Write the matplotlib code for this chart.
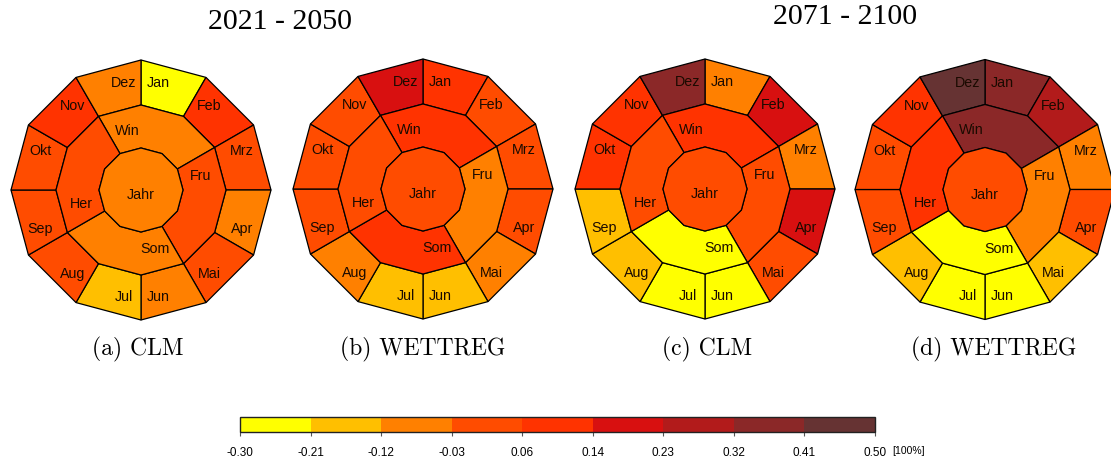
import numpy as np
import matplotlib
matplotlib.use("Agg")
import matplotlib.pyplot as plt
from matplotlib.patches import Polygon
from matplotlib.colors import ListedColormap, BoundaryNorm
import matplotlib.colorbar as mcolorbar

# ---------------- data ----------------
months = ["Jan", "Feb", "Mrz", "Apr", "Mai", "Jun", "Jul", "Aug", "Sep", "Okt", "Nov", "Dez"]
seasons = ["Win", "Fru", "Som", "Her"]
annual_label = "Jahr"

panel_captions = ["(a) CLM", "(b) WETTREG", "(c) CLM", "(d) WETTREG"]
period_titles = ["2021 - 2050", "2071 - 2100"]

# relative change [100%] per month (Jan..Dez)
clm_2021_months = [-0.26, 0.09, 0.02, -0.07, 0.01, -0.06, -0.17, 0.03, 0.02, 0.01, 0.10, -0.08]
wet_2021_months = [0.09, 0.03, 0.02, 0.04, -0.07, -0.16, -0.18, -0.08, 0.01, 0.02, 0.03, 0.18]
clm_2071_months = [-0.08, 0.19, -0.06, 0.20, 0.04, -0.27, -0.25, -0.15, -0.17, 0.08, 0.09, 0.36]
wet_2071_months = [0.37, 0.27, -0.07, 0.04, -0.16, -0.26, -0.28, -0.17, 0.03, 0.02, 0.10, 0.46]

# per season (Win, Fru, Som, Her)
clm_2021_seasons = [-0.05, 0.02, -0.06, 0.03]
wet_2021_seasons = [0.08, -0.06, 0.07, 0.02]
clm_2071_seasons = [0.09, 0.03, -0.24, 0.02]
wet_2071_seasons = [0.35, -0.05, -0.25, 0.11]

# annual
clm_2021_year = -0.04
wet_2021_year = 0.03
clm_2071_year = 0.02
wet_2071_year = 0.02

bounds = [-0.30, -0.21, -0.12, -0.03, 0.06, 0.14, 0.23, 0.32, 0.41, 0.50]
bin_colors = ["#FFFF00", "#FFBF00", "#FF8000", "#FF4C00", "#FF3300",
              "#D81010", "#B21B1B", "#8B2828", "#663333"]

# ---------------- style / layout ----------------
W, H = 1111, 461
fig = plt.figure(figsize=(W / 100, H / 100), dpi=100)
ax = fig.add_axes([0, 0, 1, 1])
ax.set_xlim(0, W)
ax.set_ylim(H, 0)
ax.axis("off")

cmap = ListedColormap(bin_colors)
norm = BoundaryNorm(bounds, cmap.N)

centers = [(141, 190), (423, 189), (705, 189), (985, 189.5)]
R_OUT, R_MID, R_IN = 130, 85, 42
lw = 0.9
label_font = ["Liberation Sans", "DejaVu Sans"]


def pt(cx, cy, r, deg):
    a = np.deg2rad(deg)
    return (cx + r * np.cos(a), cy - r * np.sin(a))


def draw_panel(cx, cy, mvals, svals, yval):
    # months: Jan spans 90 -> 60 deg, clockwise
    for i, (name, v) in enumerate(zip(months, mvals)):
        a0 = 90 - 30 * i
        a1 = a0 - 30
        poly = [pt(cx, cy, R_MID, a0), pt(cx, cy, R_OUT, a0),
                pt(cx, cy, R_OUT, a1), pt(cx, cy, R_MID, a1)]
        ax.add_patch(Polygon(poly, closed=True, facecolor=cmap(norm(v)),
                             edgecolor="black", lw=lw))
        mid = (a0 + a1) / 2
        s = np.sin(np.deg2rad(mid))
        la = mid + (6 if s > 0 else -6) * np.sign(np.cos(np.deg2rad(mid)))
        lx, ly = pt(cx, cy, 108, la)
        ax.text(lx, ly, name, ha="center", va="center", fontsize=10.3,
                family=label_font, color="#1a0a00")
    # seasons: Win spans 120 -> 30 deg
    for j, (name, v) in enumerate(zip(seasons, svals)):
        a0 = 120 - 90 * j
        angs = [a0, a0 - 30, a0 - 60, a0 - 90]
        poly = [pt(cx, cy, R_MID, a) for a in angs] + \
               [pt(cx, cy, R_IN, a) for a in angs[::-1]]
        ax.add_patch(Polygon(poly, closed=True, facecolor=cmap(norm(v)),
                             edgecolor="black", lw=lw))
        mid = a0 - 45
        lx, ly = pt(cx, cy, 61, mid + 28)
        ax.text(lx, ly, name, ha="center", va="center", fontsize=10.3,
                family=label_font, color="#1a0a00")
    # annual
    poly = [pt(cx, cy, R_IN, 90 - 30 * k) for k in range(12)]
    ax.add_patch(Polygon(poly, closed=True, facecolor=cmap(norm(yval)),
                         edgecolor="black", lw=lw))
    ax.text(cx, cy + 5, annual_label, ha="center", va="center", fontsize=10.3,
            family=label_font, color="#1a0a00")


panels = [
    (clm_2021_months, clm_2021_seasons, clm_2021_year),
    (wet_2021_months, wet_2021_seasons, wet_2021_year),
    (clm_2071_months, clm_2071_seasons, clm_2071_year),
    (wet_2071_months, wet_2071_seasons, wet_2071_year),
]
for (cx, cy), (mv, sv, yv) in zip(centers, panels):
    draw_panel(cx, cy, mv, sv, yv)

# titles
serif = ["Liberation Serif", "DejaVu Serif"]
ax.text(280, 22, period_titles[0], ha="center", va="center", fontsize=21.5, family=serif)
ax.text(845, 17, period_titles[1], ha="center", va="center", fontsize=21.5, family=serif)

# captions
cap_x = [138, 423, 707, 994]
for x, c in zip(cap_x, panel_captions):
    ax.text(x, 349, c, ha="center", va="center", fontsize=17, family=["cmr10", "DejaVu Serif"])

# colorbar
cax = fig.add_axes([240 / W, 1 - 432 / H, 635 / W, 15 / H])
cb = mcolorbar.ColorbarBase(cax, cmap=cmap, norm=norm, orientation="horizontal",
                            boundaries=bounds, ticks=bounds, spacing="uniform")
cb.set_ticklabels([f"{b:.2f}" for b in bounds])
cb.outline.set_linewidth(1.0)
cb.outline.set_edgecolor("#222222")
cax.tick_params(axis="x", direction="out", length=3, width=0.8, color="#555555",
                pad=8, labelsize=8.5)
for t in cax.get_xticklabels():
    t.set_family(["Liberation Sans Narrow", "Liberation Sans", "DejaVu Sans"])
fig.text(892 / W, 1 - 451 / H, "[100%]", ha="left", va="center", fontsize=7.5,
         family=["Liberation Sans Narrow", "Liberation Sans", "DejaVu Sans"])

fig.savefig("out.png", dpi=100)
